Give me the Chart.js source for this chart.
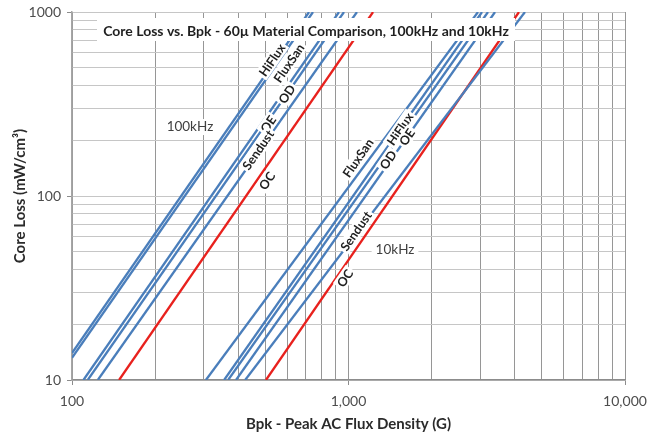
<!DOCTYPE html>
<html>
<head>
<meta charset="utf-8">
<script src="https://cdn.jsdelivr.net/npm/chart.js@4.4.1/dist/chart.umd.min.js"></script>
<style>
  html, body { margin: 0; padding: 0; background: #fff; }
</style>
</head>
<body>
<canvas id="loss-chart" width="647" height="436"></canvas>
<script>
// end points of every straight loss line
// Bpk in gauss, core loss in mW/cm3
const names100 = ["HiFlux", "FluxSan", "OE", "OD", "Sendust", "OC"];
const bStart100 = [100, 100, 110, 114, 124, 148];
const lossStart100 = [14.0, 13.2, 10, 10, 10, 10];
const bEnd100 = [720, 744, 924, 963, 1073, 1227];
const lossEnd100 = [1000, 1000, 1000, 1000, 1000, 1000];

const names10 = ["FluxSan", "HiFlux", "OD", "OE", "Sendust", "OC"];
const bStart10 = [305, 355, 367, 392, 423, 503];
const lossStart10 = [10, 10, 10, 10, 10, 10];
const bEnd10 = [2940, 3040, 3195, 3388, 4347, 4136];
const lossEnd10 = [1000, 1000, 1000, 1000, 1000, 1000];

const xTickVals = [100, 1000, 10000];
const xTickText = ["100", "1,000", "10,000"];
const yTickVals = [10, 100, 1000];
const yTickText = ["10", "100", "1000"];

// labels written along the lines (text, Bpk, loss)
const tagText = ["HiFlux", "FluxSan", "OD", "OE", "Sendust", "OC",
                 "FluxSan", "HiFlux", "OD", "OE", "Sendust", "OC"];
const tagB = [529, 609, 599, 512, 471, 507, 1082, 1536, 1390, 1628, 1064, 971];
const tagLoss = [548, 528, 358, 246, 178, 121, 161, 231, 157, 209, 64.5, 35.8];

const freqText = ["100kHz", "10kHz"];
const freqB = [267, 1473];
const freqLoss = [237, 50.9];

const chartTitle = "Core Loss vs. Bpk - 60\u00b5 Material Comparison, 100kHz and 10kHz";

const blue = "#4a7ebb";
const red = "#e8211d";

// minor grid positions 1..9 per decade
function decadeSteps(lo, hi) {
    let out = [];
    for (let d = lo; d < hi; d *= 10) {
        for (let k = 1; k < 10; k++) out.push(k * d);
    }
    out.push(hi);
    return out;
}

let datasets = [];
names100.forEach(function (n, i) {
    datasets.push({
        label: n + " 100kHz",
        data: [{x: bStart100[i], y: lossStart100[i]}, {x: bEnd100[i], y: lossEnd100[i]}],
        borderColor: n === "OC" ? red : blue,
    });
});
names10.forEach(function (n, i) {
    datasets.push({
        label: n + " 10kHz",
        data: [{x: bStart10[i], y: lossStart10[i]}, {x: bEnd10[i], y: lossEnd10[i]}],
        borderColor: n === "OC" ? red : blue,
    });
});
datasets.forEach(function (d) {
    d.showLine = true;
    d.borderWidth = 2.3;
    d.pointRadius = 0;
    d.fill = false;
});

const overlay = {
    id: "overlay",
    afterDatasetsDraw(chart) {
        const ctx = chart.ctx;
        const a = chart.chartArea;
        const x = chart.scales.x, y = chart.scales.y;
        // text angle follows the OC 100kHz line
        const ang = Math.atan2(
            y.getPixelForValue(lossEnd100[5]) - y.getPixelForValue(lossStart100[5]),
            x.getPixelForValue(bEnd100[5]) - x.getPixelForValue(bStart100[5]));

        ctx.save();
        ctx.textAlign = "center";
        ctx.textBaseline = "middle";

        ctx.font = "bold 12.5px Lato";
        tagText.forEach(function (t, i) {
            const px = x.getPixelForValue(tagB[i]);
            const py = y.getPixelForValue(tagLoss[i]);
            const w = ctx.measureText(t).width;
            ctx.save();
            ctx.translate(px, py);
            ctx.rotate(ang);
            ctx.fillStyle = "#fff";
            ctx.fillRect(-w / 2 - 2, -7, w + 4, 14);
            ctx.fillStyle = "#1f1f1f";
            ctx.fillText(t, 0, 0.5);
            ctx.restore();
        });

        ctx.font = "13.5px Lato";
        freqText.forEach(function (t, i) {
            const px = x.getPixelForValue(freqB[i]);
            const py = y.getPixelForValue(freqLoss[i]);
            const w = ctx.measureText(t).width;
            ctx.fillStyle = "#fff";
            ctx.fillRect(px - w / 2 - 4, py - 8, w + 8, 16);
            ctx.fillStyle = "#404040";
            ctx.fillText(t, px, py);
        });

        // title box sits inside the plot
        ctx.fillStyle = "#fff";
        ctx.fillRect(a.left + 25, a.top + 6, 418, 23);
        ctx.font = "bold 14px Lato";
        ctx.fillStyle = "#1f1f1f";
        ctx.fillText(chartTitle, a.left + 234, a.top + 19);
        ctx.restore();
    }
};

new Chart("loss-chart", {
    type: "scatter",
    data: { datasets: datasets },
    options: {
        responsive: false,
        animation: false,
        devicePixelRatio: 1,
        layout: { padding: { top: 12, right: 22, bottom: 0, left: 0 } },
        plugins: {
            legend: { display: false },
            tooltip: { enabled: false }
        },
        scales: {
            x: {
                type: "logarithmic",
                min: 100,
                max: 10000,
                afterBuildTicks: function (scale) {
                    scale.ticks = decadeSteps(100, 10000).map(function (v) { return {value: v}; });
                },
                afterFit: function (scale) {
                    scale.height = 56;
                    scale.paddingLeft = 0;
                    scale.paddingRight = 0;
                },
                ticks: {
                    autoSkip: false,
                    maxRotation: 0,
                    padding: 8,
                    color: "#4d4d4d",
                    font: { family: "Lato", size: 14 },
                    callback: function (v) {
                        const k = xTickVals.indexOf(v);
                        return k >= 0 ? xTickText[k] : "";
                    }
                },
                grid: {
                    color: "#969696",
                    tickLength: 5,
                    tickColor: function (c) {
                        return c.tick && xTickVals.includes(c.tick.value) ? "#8c8c8c" : "rgba(0,0,0,0)";
                    }
                },
                border: { color: "#8c8c8c", width: 1.5 },
                title: {
                    display: true,
                    text: "Bpk - Peak AC Flux Density (G)",
                    color: "#2b2b2b",
                    font: { family: "Lato", size: 15, weight: "bold" },
                    padding: { top: 0, bottom: 3 }
                }
            },
            y: {
                type: "logarithmic",
                min: 10,
                max: 1000,
                afterBuildTicks: function (scale) {
                    scale.ticks = decadeSteps(10, 1000).map(function (v) { return {value: v}; });
                },
                afterFit: function (scale) {
                    scale.width = 72;
                    scale.paddingTop = 0;
                    scale.paddingBottom = 0;
                },
                ticks: {
                    autoSkip: false,
                    padding: 6,
                    color: "#4d4d4d",
                    font: { family: "Lato", size: 14 },
                    callback: function (v) {
                        const k = yTickVals.indexOf(v);
                        return k >= 0 ? yTickText[k] : "";
                    }
                },
                grid: {
                    color: "#c6c6c6",
                    tickLength: 5,
                    tickColor: function (c) {
                        return c.tick && yTickVals.includes(c.tick.value) ? "#8c8c8c" : "rgba(0,0,0,0)";
                    }
                },
                border: { color: "#a6a6a6", width: 1.5 },
                title: {
                    display: true,
                    text: "Core Loss (mW/cm\u00b3)",
                    color: "#2b2b2b",
                    font: { family: "Lato", size: 15, weight: "bold" },
                    padding: { top: 11, bottom: 4 }
                }
            }
        }
    },
    plugins: [overlay]
});
</script>
</body>
</html>
